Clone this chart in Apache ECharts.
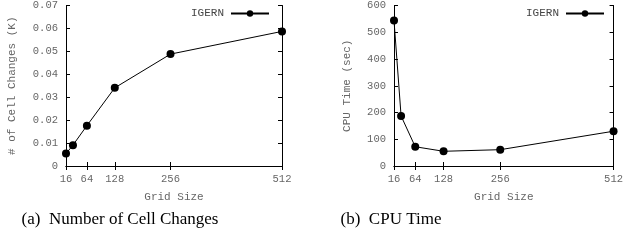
<!DOCTYPE html>
<html><head><meta charset="utf-8">
<script src="https://cdn.jsdelivr.net/npm/echarts@6/dist/echarts.min.js"></script>
<style>html,body{margin:0;padding:0;background:#fff}#c{width:626px;height:241px}</style>
</head><body><div id="c"></div>
<script>
var gridSizes = [16, 32, 64, 128, 256, 512];
var xTickLabels = [16, 64, 128, 256, 512];
var cellChanges = [0.0054, 0.0091, 0.0176, 0.0341, 0.0488, 0.0587];
var cpuTime = [544, 187, 72, 55, 61, 130];
var seriesName = 'IGERN';
var captionA = '(a)  Number of Cell Changes';
var captionB = '(b)  CPU Time';
var yTitleA = '# of Cell Changes (K)';
var yTitleB = 'CPU Time (sec)';
var xTitle = 'Grid Size';

var mono = 'Liberation Mono';
var grey = '#666';
function pairs(ys){ return gridSizes.map(function(x,i){return [x, ys[i]];}); }

function mainX(gi){
  return {type:'value', gridIndex:gi, min:16, max:512, position:'bottom',
    name:xTitle, nameLocation:'middle', nameGap:26,
    nameTextStyle:{fontFamily:mono,fontSize:11,color:grey},
    axisLine:{show:true,lineStyle:{color:'#000',width:1}},
    axisTick:{show:true,inside:true,length:4,customValues:xTickLabels,lineStyle:{color:'#000'}},
    axisLabel:{customValues:xTickLabels,fontFamily:mono,fontSize:10.5,color:grey,margin:8},
    splitLine:{show:false}};
}
function mirrorX(gi){
  return {type:'value', gridIndex:gi, min:16, max:512, position:'top',
    axisLine:{show:true,lineStyle:{color:'#000',width:1}},
    axisTick:{show:true,inside:true,length:4,customValues:xTickLabels,lineStyle:{color:'#000'}},
    axisLabel:{show:false}, splitLine:{show:false}};
}
function mainY(gi,max,interval,name,gap,fmt){
  return {type:'value', gridIndex:gi, min:0, max:max, interval:interval, position:'left',
    name:name, nameLocation:'middle', nameGap:gap,
    nameTextStyle:{fontFamily:mono,fontSize:11,color:grey},
    axisLine:{show:true,lineStyle:{color:'#000',width:1}},
    axisTick:{show:true,inside:true,length:4,lineStyle:{color:'#000'}},
    axisLabel:{fontFamily:mono,fontSize:10.5,color:grey,margin:8,formatter:fmt},
    splitLine:{show:false}};
}
function mirrorY(gi,max,interval){
  return {type:'value', gridIndex:gi, min:0, max:max, interval:interval, position:'right',
    axisLine:{show:true,lineStyle:{color:'#000',width:1}},
    axisTick:{show:true,inside:true,length:4,lineStyle:{color:'#000'}},
    axisLabel:{show:false}, splitLine:{show:false}};
}
function legend(right){
  return {data:[seriesName], right:right, top:3, align:'right', itemWidth:38, itemHeight:8, itemGap:0,
    textStyle:{fontFamily:mono,fontSize:11,color:'#444',padding:[0,2,0,0]}};
}

var chart = echarts.init(document.getElementById('c'), null, {renderer:'canvas'});
chart.setOption({
  animation:false,
  backgroundColor:'#fff',
  title:[
    {text:captionA,left:115,top:206,textAlign:'center',textStyle:{fontFamily:'Liberation Serif',fontSize:17,fontWeight:'normal',color:'#000'}},
    {text:captionB,left:386,top:206,textAlign:'center',textStyle:{fontFamily:'Liberation Serif',fontSize:17,fontWeight:'normal',color:'#000'}}
  ],
  legend:[legend(351), legend(16)],
  grid:[
    {left:66,right:344,top:4,bottom:75,containLabel:false},
    {left:394,right:10,top:4,bottom:75,containLabel:false}
  ],
  xAxis:[mainX(0), mirrorX(0), mainX(1), mirrorX(1)],
  yAxis:[
    mainY(0,0.07,0.01,yTitleA,48,function(v){return v===0?'0':v.toFixed(2);}),
    mirrorY(0,0.07,0.01),
    mainY(1,600,100,yTitleB,41,function(v){return String(v);}),
    mirrorY(1,600,100)
  ],
  series:[
    {name:seriesName,type:'line',xAxisIndex:0,yAxisIndex:0,data:pairs(cellChanges),
     symbol:'circle',symbolSize:8,lineStyle:{color:'#000',width:1},itemStyle:{color:'#000'}},
    {name:seriesName,type:'line',xAxisIndex:2,yAxisIndex:2,data:pairs(cpuTime),
     symbol:'circle',symbolSize:8,lineStyle:{color:'#000',width:1},itemStyle:{color:'#000'}}
  ]
});
</script></body></html>
